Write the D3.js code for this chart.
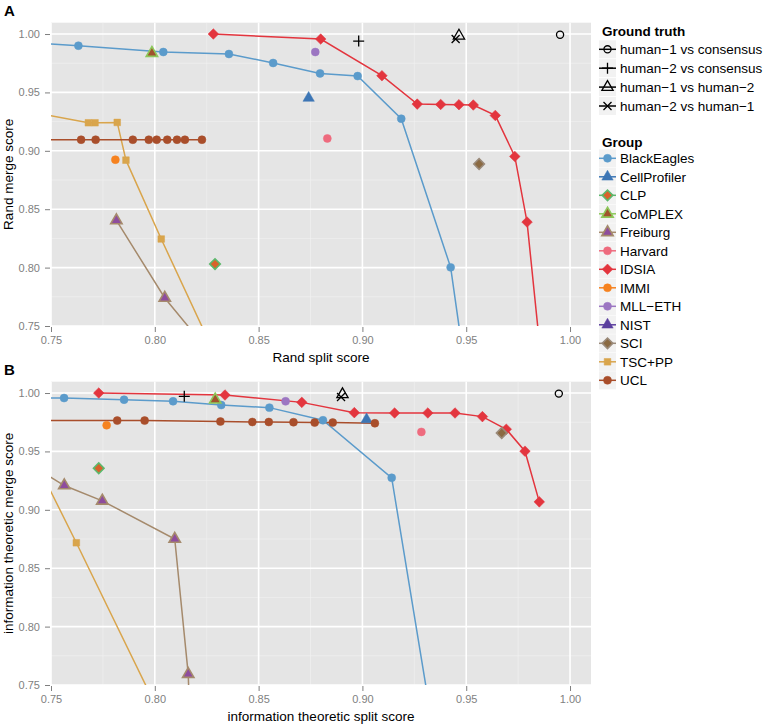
<!DOCTYPE html>
<html>
<head>
<meta charset="utf-8">
<script src="https://cdn.jsdelivr.net/npm/d3@7"></script>
<style>
    body { margin: 0; background: #fff; }
    text { font-family: "Liberation Sans", Arial, sans-serif; }
</style>
</head>
<body>
<div id="chart-holder"></div>
<script>
// groups and legend
var groups = ['BlackEagles', 'CellProfiler', 'CLP', 'CoMPLEX', 'Freiburg', 'Harvard', 'IDSIA', 'IMMI', 'MLL\u2212ETH', 'NIST', 'SCI', 'TSC+PP', 'UCL'];
var truthLabels = ['human\u22121 vs consensus', 'human\u22122 vs consensus', 'human\u22121 vs human\u22122', 'human\u22122 vs human\u22121'];
var ticks = [0.75, 0.80, 0.85, 0.90, 0.95, 1.00];

// Rand scores: [split, merge]
var randBlackEagles = [[0.72, 0.9945], [0.7632, 0.990], [0.8041, 0.9846], [0.8357, 0.9829], [0.857, 0.9752], [0.8796, 0.9663], [0.8977, 0.964], [0.9187, 0.9275], [0.9425, 0.8002], [0.9537, 0.66]];
var randCellProfiler = [[0.8741, 0.9452]];
var randCLP = [[0.829, 0.803]];
var randCoMPLEX = [[0.7986, 0.9837]];
var randFreiburg = [[0.7815, 0.8404], [0.8048, 0.774], [0.8298, 0.72]];
var randHarvard = [[0.8831, 0.9106]];
var randIDSIA = [[0.8282, 1.0], [0.8799, 0.9957], [0.9094, 0.9643], [0.9264, 0.940], [0.9377, 0.9397], [0.9465, 0.9395], [0.9534, 0.9392], [0.964, 0.9303], [0.9734, 0.8952], [0.9793, 0.839], [0.9873, 0.70]];
var randIMMI = [[0.781, 0.8924]];
var randMLLETH = [[0.8773, 0.9846]];
var randNIST = [];
var randSCI = [[0.9562, 0.8887]];
var randTSCPP = [[0.72, 0.940], [0.768, 0.924], [0.7712, 0.924], [0.7819, 0.9243], [0.7861, 0.892], [0.8031, 0.8245], [0.8357, 0.70]];
var randUCL = [[0.72, 0.9095], [0.7645, 0.9095], [0.7715, 0.9095], [0.7894, 0.9095], [0.7971, 0.9095], [0.8009, 0.9095], [0.806, 0.9095], [0.8107, 0.9095], [0.8145, 0.9095], [0.8227, 0.9095]];
var randTruth = [[0.9952, 0.9994], [0.8982, 0.994], [0.9465, 0.9985], [0.9449, 0.9957]];

// information theoretic scores: [split, merge]
var infoBlackEagles = [[0.72, 0.9965], [0.7563, 0.9957], [0.7852, 0.9943], [0.8088, 0.9929], [0.832, 0.9897], [0.8552, 0.9875], [0.881, 0.9767], [0.9141, 0.9274], [0.9388, 0.66]];
var infoCellProfiler = [[0.902, 0.9773]];
var infoCLP = [[0.773, 0.9356]];
var infoCoMPLEX = [[0.8291, 0.9943]];
var infoFreiburg = [[0.73, 0.9493], [0.7564, 0.9208], [0.7747, 0.9077], [0.8096, 0.875], [0.8161, 0.7593], [0.8172, 0.70]];
var infoHarvard = [[0.9284, 0.9667]];
var infoIDSIA = [[0.773, 1.0], [0.8338, 0.9983], [0.8708, 0.992], [0.8961, 0.9832], [0.9155, 0.9829], [0.9315, 0.9829], [0.9446, 0.9829], [0.9578, 0.9798], [0.9693, 0.969], [0.9783, 0.9502], [0.9852, 0.9068]];
var infoIMMI = [[0.7768, 0.9724]];
var infoMLLETH = [[0.863, 0.9929]];
var infoNIST = [];
var infoSCI = [[0.9671, 0.9658]];
var infoTSCPP = [[0.74, 0.9511], [0.7622, 0.8718], [0.8049, 0.716]];
var infoUCL = [[0.72, 0.9765], [0.7819, 0.9764], [0.7951, 0.9764], [0.8316, 0.9756], [0.847, 0.9752], [0.8549, 0.9752], [0.8668, 0.975], [0.877, 0.9747], [0.8857, 0.9747], [0.906, 0.9741]];
var infoTruth = [[0.9946, 0.9995], [0.8142, 0.9972], [0.8904, 0.9989], [0.8897, 0.9966]];

var randData = [randBlackEagles, randCellProfiler, randCLP, randCoMPLEX, randFreiburg, randHarvard, randIDSIA, randIMMI, randMLLETH, randNIST, randSCI, randTSCPP, randUCL];
var infoData = [infoBlackEagles, infoCellProfiler, infoCLP, infoCoMPLEX, infoFreiburg, infoHarvard, infoIDSIA, infoIMMI, infoMLLETH, infoNIST, infoSCI, infoTSCPP, infoUCL];

// styles
var shapes = ['circle', 'triangle', 'diamond', 'triangle', 'triangle', 'circle', 'diamond', 'circle', 'circle', 'triangle', 'diamond', 'square', 'circle'];
var strokes = ['#5b9bcb', '#3d76b5', '#5cb86c', '#8dc85a', '#a58a6c', '#ee6b7e', '#e3353e', '#f6821f', '#9c76c2', '#5b3f9e', '#9a8a7a', '#d9a54c', '#a94e2b'];
var fills = ['#5b9bcb', '#3d76b5', '#d9622b', '#a0522d', '#8e4d9e', '#ee6b7e', '#e3353e', '#f6821f', '#9c76c2', '#5b3f9e', '#8b6a42', '#d9a54c', '#a94e2b'];
var truthShapes = ['opencircle', 'plus', 'opentriangle', 'cross'];

function buildChart(containerId) {
    var width = 767;
    var height = 726;
    var left = 51, right = 591;

    var svg = d3
        .select(containerId)
        .append('svg')
        .attr('width', width)
        .attr('height', height);

    var x = d3.scaleLinear().domain([0.75, 1.0101]).range([left, right]);

    function shapePath(name) {
        if (name == 'circle') return d3.symbol(d3.symbolCircle, 50)();
        if (name == 'triangle') return d3.symbol(d3.symbolTriangle, 56)();
        if (name == 'square') return d3.symbol(d3.symbolSquare, 44)();
        if (name == 'diamond') return d3.symbol(d3.symbolSquare, 56)();
        if (name == 'opencircle') return d3.symbol(d3.symbolCircle, 40)();
        if (name == 'opentriangle') return d3.symbol(d3.symbolTriangle, 55)();
        if (name == 'plus') return 'M-5.5,0H5.5M0,-5.5V5.5';
        if (name == 'cross') return 'M-4,-4L4,4M-4,4L4,-4';
    }

    function drawMarker(sel, name, stroke, fill) {
        var p = sel.append('path')
            .attr('d', shapePath(name))
            .attr('transform', name == 'diamond' ? 'rotate(45)' : null);
        if (name == 'opencircle' || name == 'opentriangle' || name == 'plus' || name == 'cross') {
            p.attr('fill', 'none').attr('stroke', stroke).attr('stroke-width', 1.3);
        } else {
            p.attr('fill', fill).attr('stroke', stroke).attr('stroke-width', fill == stroke ? 0.5 : 1.6);
        }
        return p;
    }

    function panel(data, truth, top, bottom, label, xTitle, yTitle, id) {
        var y = d3.scaleLinear().domain([0.75, 1.0097]).range([bottom, top]);

        svg.append('clipPath').attr('id', id)
            .append('rect')
            .attr('x', left).attr('y', top)
            .attr('width', right - left).attr('height', bottom - top);

        svg.append('rect')
            .attr('x', left).attr('y', top)
            .attr('width', right - left).attr('height', bottom - top)
            .attr('fill', '#e5e5e5');

        // grid
        var minor = d3.range(0.775, 1.02, 0.05);
        var grid = svg.append('g');
        grid.selectAll('.vminor').data(minor).enter().append('line')
            .attr('x1', d => x(d)).attr('x2', d => x(d))
            .attr('y1', top).attr('y2', bottom)
            .attr('stroke', '#f2f2f2').attr('stroke-width', 0.6);
        grid.selectAll('.hminor').data(minor).enter().append('line')
            .attr('y1', d => y(d)).attr('y2', d => y(d))
            .attr('x1', left).attr('x2', right)
            .attr('stroke', '#f2f2f2').attr('stroke-width', 0.6);
        grid.selectAll('.vmajor').data(ticks).enter().append('line')
            .attr('x1', d => x(d)).attr('x2', d => x(d))
            .attr('y1', top).attr('y2', bottom)
            .attr('stroke', '#fff').attr('stroke-width', 1.6);
        grid.selectAll('.hmajor').data(ticks).enter().append('line')
            .attr('y1', d => y(d)).attr('y2', d => y(d))
            .attr('x1', left).attr('x2', right)
            .attr('stroke', '#fff').attr('stroke-width', 1.6);

        // axes
        var xAxis = d3.axisBottom(x).tickValues(ticks).tickSize(5).tickPadding(4).tickFormat(d3.format('.2f'));
        var yAxis = d3.axisLeft(y).tickValues(ticks).tickSize(5).tickPadding(5).tickFormat(d3.format('.2f'));
        [svg.append('g').attr('transform', 'translate(0,' + (bottom + 1) + ')').call(xAxis),
         svg.append('g').attr('transform', 'translate(' + (left - 1) + ',0)').call(yAxis)].forEach(function(a) {
            a.select('.domain').remove();
            a.selectAll('line').attr('stroke', '#7f7f7f');
            a.selectAll('text').attr('fill', '#7f7f7f').style('font-size', '11px')
                .style('font-family', '"Liberation Sans", Arial, sans-serif');
        });

        // lines then points
        var plot = svg.append('g').attr('clip-path', 'url(#' + id + ')');
        var line = d3.line().x(d => x(d[0])).y(d => y(d[1]));
        data.forEach(function(pts, i) {
            if (pts.length > 1) {
                plot.append('path')
                    .attr('d', line(pts))
                    .attr('fill', 'none')
                    .attr('stroke', strokes[i])
                    .attr('stroke-width', 1.5);
            }
        });
        data.forEach(function(pts, i) {
            pts.forEach(function(p) {
                var g = plot.append('g').attr('transform', 'translate(' + x(p[0]) + ',' + y(p[1]) + ')');
                drawMarker(g, shapes[i], strokes[i], fills[i]);
            });
        });
        truth.forEach(function(p, i) {
            var g = plot.append('g').attr('transform', 'translate(' + x(p[0]) + ',' + y(p[1]) + ')');
            drawMarker(g, truthShapes[i], '#000', 'none');
        });

        // labels
        svg.append('text')
            .attr('x', 4).attr('y', top - 7)
            .style('font-size', '15px').style('font-weight', 'bold')
            .text(label);

        svg.append('text')
            .attr('x', (left + right) / 2).attr('y', bottom + 36)
            .attr('text-anchor', 'middle')
            .style('font-size', '13.5px')
            .text(xTitle);

        svg.append('text')
            .attr('transform', 'translate(13,' + (top + bottom) / 2 + ') rotate(-90)')
            .attr('text-anchor', 'middle')
            .style('font-size', '13.5px')
            .text(yTitle);
    }

    panel(randData, randTruth, 22.7, 326, 'A', 'Rand split score', 'Rand merge score', 'clipA');
    panel(infoData, infoTruth, 381.7, 685, 'B', 'information theoretic split score', 'information theoretic merge score', 'clipB');

    // legends
    var lg = svg.append('g');
    function legendKey(cy, stroke, fill, shape) {
        lg.append('rect')
            .attr('x', 599).attr('y', cy - 9)
            .attr('width', 17).attr('height', 18)
            .attr('fill', '#f2f2f2');
        lg.append('line')
            .attr('x1', 599).attr('x2', 616)
            .attr('y1', cy).attr('y2', cy)
            .attr('stroke', stroke).attr('stroke-width', 1.5);
        var g = lg.append('g').attr('transform', 'translate(607.5,' + cy + ')');
        drawMarker(g, shape, stroke, fill);
    }

    lg.append('text')
        .attr('x', 602).attr('y', 36)
        .style('font-size', '13.5px').style('font-weight', 'bold')
        .text('Ground truth');
    truthLabels.forEach(function(t, i) {
        var cy = 49.3 + i * 18.9;
        legendKey(cy, '#000', 'none', truthShapes[i]);
        lg.append('text').attr('x', 620).attr('y', cy + 5)
            .style('font-size', '13.5px').text(t);
    });

    lg.append('text')
        .attr('x', 602).attr('y', 146.5)
        .style('font-size', '13.5px').style('font-weight', 'bold')
        .text('Group');
    groups.forEach(function(t, i) {
        var cy = 158.3 + i * 18.5;
        legendKey(cy, strokes[i], fills[i], shapes[i]);
        lg.append('text').attr('x', 620).attr('y', cy + 5)
            .style('font-size', '13.5px').text(t);
    });
}

buildChart('#chart-holder');
</script>
</body>
</html>
